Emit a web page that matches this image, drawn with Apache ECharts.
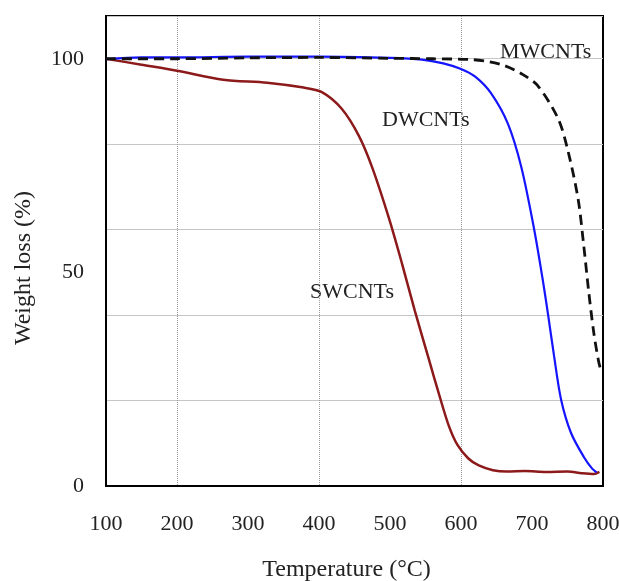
<!DOCTYPE html>
<html>
<head>
<meta charset="utf-8">
<script src="https://cdn.jsdelivr.net/npm/echarts@6/dist/echarts.min.js"></script>
<style>
  html, body { margin: 0; padding: 0; background: #fff; }
  #main { width: 619px; height: 581px; }
</style>
</head>
<body>
<div id="main"></div>
<script>
// TGA curves (temperature in °C, weight in %)
var swT = [100, 150, 200, 265, 327, 376, 404, 432, 456, 475, 499, 517, 535, 555, 569, 583, 595, 610, 625, 645, 665, 690, 720, 750, 770, 787, 795];
var swW = [100, 98.6, 97.2, 95.1, 94.4, 93.3, 92.2, 88.3, 82, 74.5, 62.4, 52.0, 41.0, 29.5, 21.5, 14.0, 9.6, 6.5, 4.8, 3.7, 3.4, 3.5, 3.3, 3.4, 3.0, 2.8, 3.3];

var dwT = [100, 150, 200, 300, 400, 500, 545, 575, 600, 620, 642, 666, 685, 703, 715, 723, 731, 741, 755, 773, 785, 791];
var dwW = [99.9, 100.3, 100.3, 100.5, 100.5, 100.2, 99.8, 98.9, 97.6, 95.8, 92.0, 84.8, 74.6, 60.1, 48.4, 39.7, 30.5, 20.2, 12.4, 6.8, 4.0, 3.2];

var mwT = [100, 200, 300, 400, 500, 560, 614, 640, 661, 685, 708, 737, 751, 765, 773, 780, 787, 794, 798];
var mwW = [100, 100, 100.2, 100.3, 100.1, 100, 99.8, 99.3, 98.4, 96.5, 93.7, 85.9, 78.2, 67.1, 56.1, 45.3, 35.9, 29, 26.5];

function pairs(xs, ys) {
  return xs.map(function (x, i) { return [x, ys[i]]; });
}

var font = 'Liberation Serif';
var chart = echarts.init(document.getElementById('main'));

var option = {
  animation: false,
  backgroundColor: '#fff',
  grid: {
    left: 106, right: 16, top: 16, bottom: 95,
    outerBoundsMode: 'none', containLabel: false,
    show: true, borderColor: '#000', borderWidth: 2, backgroundColor: 'transparent'
  },
  xAxis: {
    type: 'value', min: 100, max: 800, interval: 100,
    name: 'Temperature (°C)', nameLocation: 'middle', nameGap: 72,
    nameTextStyle: { fontFamily: font, fontSize: 24, color: '#222', padding: [0, 16, 0, 0] },
    axisLine: { lineStyle: { color: '#000', width: 2 } },
    axisTick: { show: false },
    axisLabel: { fontFamily: font, fontSize: 22, color: '#222', margin: 27 },
    splitLine: {
      show: true,
      lineStyle: {
        // only 200, 400 and 600 carry a grid line
        color: ['rgba(0,0,0,0)', '#9a9a9a', 'rgba(0,0,0,0)', '#9a9a9a', 'rgba(0,0,0,0)', '#9a9a9a', 'rgba(0,0,0,0)', 'rgba(0,0,0,0)'],
        type: 'dotted', width: 1
      }
    }
  },
  yAxis: [{
    type: 'value', min: 0, max: 110, interval: 50,
    name: 'Weight loss (%)', nameLocation: 'middle', nameGap: 70,
    nameTextStyle: { fontFamily: font, fontSize: 24, color: '#222', padding: [0, 34, 0, 0] },
    axisLine: { lineStyle: { color: '#000', width: 2 } },
    axisTick: { show: false },
    axisLabel: { fontFamily: font, fontSize: 22, color: '#222', margin: 22, showMaxLabel: false },
    splitLine: { show: false }
  }, {
    type: 'value', min: 0, max: 110, interval: 20, position: 'left',
    axisLine: { show: false }, axisTick: { show: false }, axisLabel: { show: false },
    splitLine: { show: true, lineStyle: { color: '#c6c6c6', width: 1 } }
  }],
  series: [{
    name: 'SWCNTs', type: 'line', data: pairs(swT, swW), smooth: 0.3,
    showSymbol: false, lineStyle: { color: '#8c1a1a', width: 2.5 }
  }, {
    name: 'DWCNTs', type: 'line', data: pairs(dwT, dwW), smooth: 0.3,
    showSymbol: false, lineStyle: { color: '#1414ff', width: 2.2 }
  }, {
    name: 'MWCNTs', type: 'line', data: pairs(mwT, mwW), smooth: 0.3,
    showSymbol: false, lineStyle: { color: '#111', width: 2.8, type: [10, 6] }
  }],
  graphic: [
    { type: 'text', x: 500, y: 52, style: { text: 'MWCNTs', font: '22px "Liberation Serif"', fill: '#222', verticalAlign: 'middle' } },
    { type: 'text', x: 382, y: 120, style: { text: 'DWCNTs', font: '22px "Liberation Serif"', fill: '#222', verticalAlign: 'middle' } },
    { type: 'text', x: 310, y: 292, style: { text: 'SWCNTs', font: '22px "Liberation Serif"', fill: '#222', verticalAlign: 'middle' } }
  ]
};
chart.setOption(option);
</script>
</body>
</html>
